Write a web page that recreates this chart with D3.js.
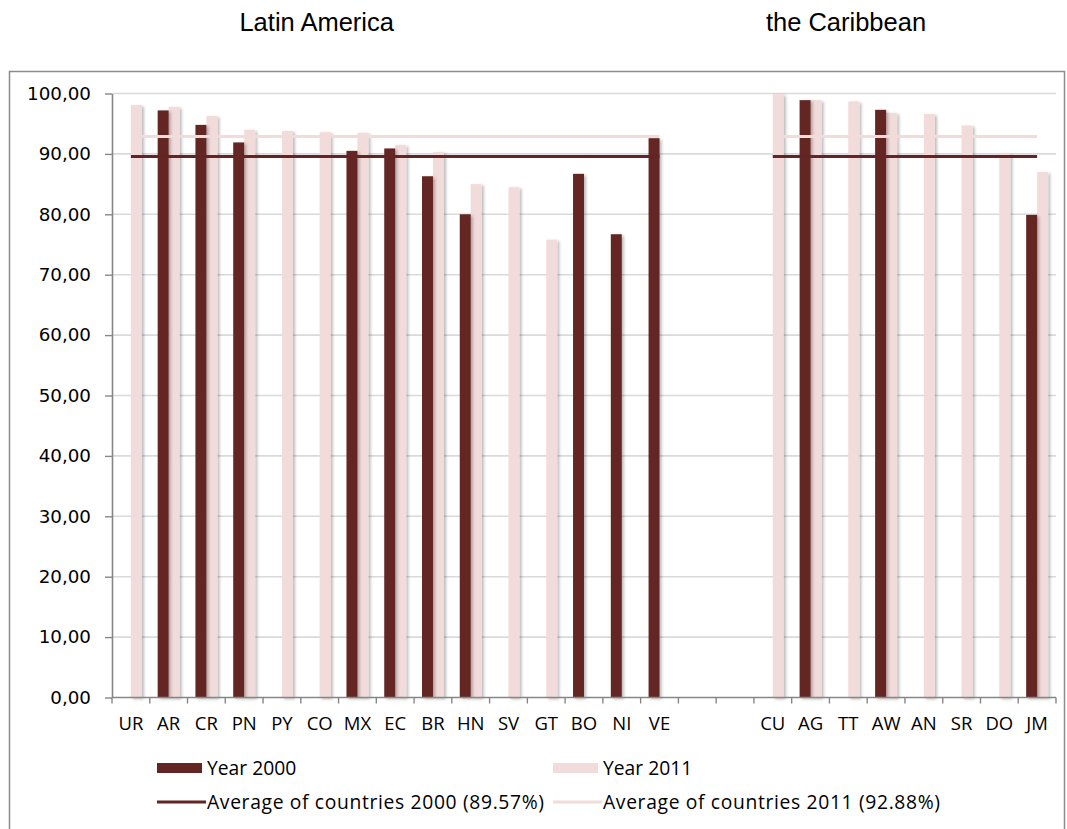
<!DOCTYPE html>
<html>
<head>
<meta charset="utf-8">
<script src="https://cdn.jsdelivr.net/npm/d3@7"></script>
<style>
  body { margin: 0; background: #fff; }
  text { fill: #000; }
</style>
</head>
<body>
<svg id="chart" width="1067" height="829"></svg>
<script>
// Latin America
const latinCountries = ["UR","AR","CR","PN","PY","CO","MX","EC","BR","HN","SV","GT","BO","NI","VE"];
const latin2000 = [null, 97.2, 94.8, 91.9, null, null, 90.5, 90.9, 86.3, 80.0, null, null, 86.7, 76.7, 92.6];
const latin2011 = [98.1, 97.8, 96.3, 94.0, 93.8, 93.6, 93.5, 91.5, 90.3, 85.0, 84.5, 75.8, null, null, null];

// the Caribbean
const caribCountries = ["CU","AG","TT","AW","AN","SR","DO","JM"];
const carib2000 = [null, 98.9, null, 97.3, null, null, null, 79.9];
const carib2011 = [99.9, 98.9, 98.7, 96.8, 96.6, 94.7, 90.1, 87.0];

// Averages over countries
const avg2000 = 89.57;
const avg2011 = 92.88;

const groupTitles = ["Latin America", "the Caribbean"];
const yTicks = [0, 10, 20, 30, 40, 50, 60, 70, 80, 90, 100];
const legendLabels = ["Year 2000", "Year 2011",
  "Average of countries 2000 (89.57%)", "Average of countries 2011 (92.88%)"];

const gapSlots = ["", " "];
const categories = [...latinCountries, ...gapSlots, ...caribCountries];

const DARK = "#632523";
const LIGHT = "#f2dcdb";

const svg = d3.select("#chart");

const defs = svg.append("defs");
const shadow = defs.append("filter").attr("id", "barShadow")
  .attr("x", "-30%").attr("y", "-5%").attr("width", "180%").attr("height", "110%");
shadow.append("feDropShadow").attr("dx", 2).attr("dy", 1.5)
  .attr("stdDeviation", 1.4).attr("flood-color", "#000").attr("flood-opacity", 0.28);

// outer frame
svg.append("rect")
  .attr("x", 9.5).attr("y", 71.5).attr("width", 1055).attr("height", 800)
  .attr("fill", "none").attr("stroke", "#8c8c8c").attr("stroke-width", 1.5);

const x = d3.scaleBand().domain(categories).range([112, 1056]).padding(0);
const y = d3.scaleLinear().domain([0, 100]).range([697.5, 93.5]);
const barW = x.bandwidth() * 0.29;
const cx = c => x(c) + x.bandwidth() / 2;

// horizontal gridlines
svg.append("g").selectAll("line")
  .data(yTicks.filter(d => d > 0))
  .join("line")
  .attr("x1", 112).attr("x2", 1056)
  .attr("y1", d => y(d)).attr("y2", d => y(d))
  .attr("stroke", "#dadada").attr("stroke-width", 1.6);

// y axis
const fmt = v => d3.format(".2f")(v).replace(".", ",");
const yAxis = svg.append("g")
  .attr("transform", "translate(112,0)")
  .call(d3.axisLeft(y).tickValues(yTicks).tickFormat(fmt)
    .tickSizeInner(7).tickSizeOuter(0).tickPadding(14));
yAxis.select(".domain").attr("stroke", "#868686").attr("stroke-width", 1.6);
yAxis.selectAll(".tick line").attr("stroke", "#868686").attr("stroke-width", 1.4);
yAxis.selectAll(".tick text")
  .style("font-family", "'DejaVu Sans', sans-serif").style("font-size", "18.3px").attr("fill", "#000");

// bars
const rows = [
  ...latinCountries.map((c, i) => ({ c, v2000: latin2000[i], v2011: latin2011[i] })),
  ...caribCountries.map((c, i) => ({ c, v2000: carib2000[i], v2011: carib2011[i] }))
];

const bars = svg.append("g");
bars.selectAll("rect.y2011")
  .data(rows.filter(d => d.v2011 != null))
  .join("rect").attr("class", "y2011")
  .attr("x", d => cx(d.c)).attr("width", barW)
  .attr("y", d => y(d.v2011)).attr("height", d => y(0) - y(d.v2011))
  .attr("fill", LIGHT).attr("filter", "url(#barShadow)");
bars.selectAll("rect.y2000")
  .data(rows.filter(d => d.v2000 != null))
  .join("rect").attr("class", "y2000")
  .attr("x", d => cx(d.c) - barW).attr("width", barW)
  .attr("y", d => y(d.v2000)).attr("height", d => y(0) - y(d.v2000))
  .attr("fill", DARK).attr("filter", "url(#barShadow)");

// x axis line with boundary ticks
const xg = svg.append("g");
xg.append("line")
  .attr("x1", 112).attr("x2", 1056).attr("y1", y(0)).attr("y2", y(0))
  .attr("stroke", "#868686").attr("stroke-width", 1.6);
const bounds = [...categories.map(c => x(c)), x.range()[1]];
xg.selectAll("line.tick")
  .data(bounds)
  .join("line").attr("class", "tick")
  .attr("x1", d => d).attr("x2", d => d)
  .attr("y1", y(0)).attr("y2", y(0) + 6)
  .attr("stroke", "#868686").attr("stroke-width", 1.4);
xg.selectAll("text")
  .data(categories)
  .join("text")
  .attr("x", d => cx(d)).attr("y", 729.5)
  .attr("text-anchor", "middle")
  .style("font-family", "'Open Sans', sans-serif").style("font-size", "18.5px")
  .text(d => d.trim());

// average lines for each group
const groups = [latinCountries, caribCountries];
const avgLines = svg.append("g");
groups.forEach(g => {
  const x1 = cx(g[0]), x2 = cx(g[g.length - 1]);
  avgLines.append("line")
    .attr("x1", x1).attr("x2", x2).attr("y1", y(avg2011)).attr("y2", y(avg2011))
    .attr("stroke", LIGHT).attr("stroke-width", 3);
  avgLines.append("line")
    .attr("x1", x1).attr("x2", x2).attr("y1", y(avg2000)).attr("y2", y(avg2000))
    .attr("stroke", DARK).attr("stroke-width", 3);
});

// group titles
const titleX = [316.7, 846];
svg.append("g").selectAll("text")
  .data(groupTitles)
  .join("text")
  .attr("x", (d, i) => titleX[i]).attr("y", 31)
  .attr("text-anchor", "middle")
  .style("font-family", "'Liberation Sans', Arial, sans-serif").style("font-size", "25.5px")
  .text(d => d);

// legend
const legend = svg.append("g")
  .style("font-family", "'Open Sans', sans-serif").style("font-size", "19.3px");
const legendItems = [
  { label: legendLabels[0], kind: "box", color: DARK, x: 157, y: 768 },
  { label: legendLabels[1], kind: "box", color: LIGHT, x: 553, y: 768 },
  { label: legendLabels[2], kind: "line", color: DARK, x: 157, y: 802, len: 337 },
  { label: legendLabels[3], kind: "line", color: LIGHT, x: 553, y: 802, len: 337 }
];
legendItems.forEach(it => {
  if (it.kind === "box") {
    legend.append("rect").attr("x", it.x).attr("y", it.y - 5)
      .attr("width", 45).attr("height", 10).attr("fill", it.color);
  } else {
    legend.append("line").attr("x1", it.x).attr("x2", it.x + 49)
      .attr("y1", it.y).attr("y2", it.y)
      .attr("stroke", it.color).attr("stroke-width", 3);
  }
  const t = legend.append("text").attr("x", it.x + 50).attr("y", it.y + 7).text(it.label);
  if (it.len) t.attr("textLength", it.len).attr("lengthAdjust", "spacing");
});
</script>
</body>
</html>
